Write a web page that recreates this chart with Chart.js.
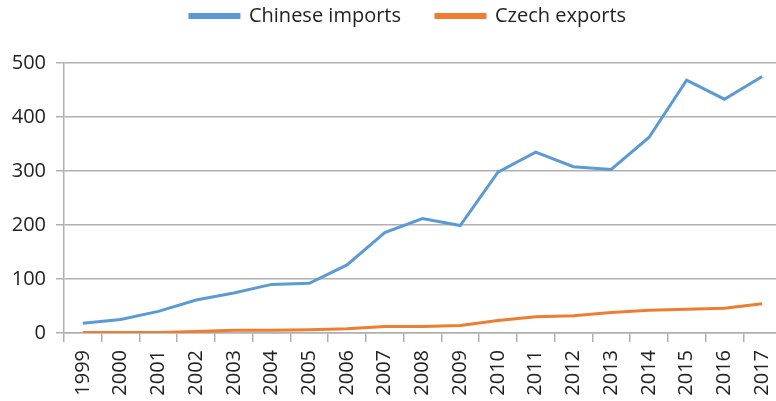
<!DOCTYPE html>
<html>
<head>
<meta charset="utf-8">
<script src="https://cdn.jsdelivr.net/npm/chart.js@4/dist/chart.umd.min.js"></script>
<style>
  html, body { margin: 0; padding: 0; background: #fff; }
  #wrap { width: 776px; height: 401px; }
</style>
</head>
<body>
<div id="wrap"><canvas id="c" width="776" height="401"></canvas></div>
<script>
const years = ['1999','2000','2001','2002','2003','2004','2005','2006','2007','2008','2009','2010','2011','2012','2013','2014','2015','2016','2017'];
const chineseImports = [18, 25, 40, 61, 74, 90, 92, 126, 186, 212, 199, 298, 335, 308, 303, 362, 468, 433, 475];
const czechExports = [1, 1, 1, 3, 5, 5, 6, 8, 12, 12, 14, 23, 30, 32, 38, 42, 44, 46, 54];
const yTicks = [0, 100, 200, 300, 400, 500];

const FONT = 'Open Sans, Liberation Sans, sans-serif';
const TXT = '#222';
const GRID = '#b0b0b0';
const TOP_PAD = -29;
const PLOT_RIGHT = 781; // the reference plot runs slightly past the image's right edge

const layoutTweaks = {
  id: 'layoutTweaks',
  beforeLayout(chart) {
    const lg = chart.legend;
    if (lg && !lg._wrapped) {
      const orig = lg.fit;
      lg.fit = function () { orig.call(this); this.height = 63 - TOP_PAD; };
      lg._wrapped = true;
    }
  },
  afterLayout(chart) {
    const lg = chart.legend;
    if (lg) { lg.left += 20; lg.right += 20; }
    const xs = chart.scales.x;
    chart.chartArea.right = PLOT_RIGHT;
    chart.chartArea.width = PLOT_RIGHT - chart.chartArea.left;
    xs.right = PLOT_RIGHT;
    xs.width = PLOT_RIGHT - xs.left;
    xs.configure();
  }
};

new Chart(document.getElementById('c'), {
  type: 'line',
  data: {
    labels: years,
    datasets: [
      { label: 'Chinese imports', data: chineseImports, borderColor: '#5B9BD5', backgroundColor: '#5B9BD5', borderWidth: 3, pointRadius: 0, tension: 0 },
      { label: 'Czech exports', data: czechExports, borderColor: '#ED7D31', backgroundColor: '#ED7D31', borderWidth: 3, pointRadius: 0, tension: 0 }
    ]
  },
  plugins: [layoutTweaks],
  options: {
    responsive: false,
    animation: false,
    layout: { padding: { left: 0, right: 0, top: TOP_PAD, bottom: 0 } },
    plugins: {
      legend: {
        position: 'top',
        labels: {
          font: { family: FONT, size: 20 },
          color: TXT,
          boxWidth: 49,
          boxHeight: 3,
          padding: 35
        }
      },
      tooltip: { enabled: false }
    },
    scales: {
      x: {
        offset: true,
        grid: { display: true, drawOnChartArea: false, drawTicks: true, tickLength: 9, color: GRID, lineWidth: 1.5, offset: true },
        border: { display: true, color: GRID, width: 1.5 },
        ticks: { font: { family: FONT, size: 20 }, color: TXT, minRotation: 90, maxRotation: 90, padding: 8, autoSkip: false },
        afterFit: (s) => { s.height = 68; s.paddingLeft = 0; s.paddingRight = 0; }
      },
      y: {
        min: 0, max: 500,
        afterBuildTicks: (s) => { s.ticks = yTicks.map(v => ({ value: v })); },
        grid: { color: GRID, lineWidth: 1.5, drawTicks: true, tickLength: 8 },
        border: { display: true, color: GRID, width: 1.5 },
        ticks: { font: { family: FONT, size: 20 }, color: TXT, padding: 10 },
        afterFit: (s) => { s.width = 64; }
      }
    }
  }
});
</script>
</body>
</html>
